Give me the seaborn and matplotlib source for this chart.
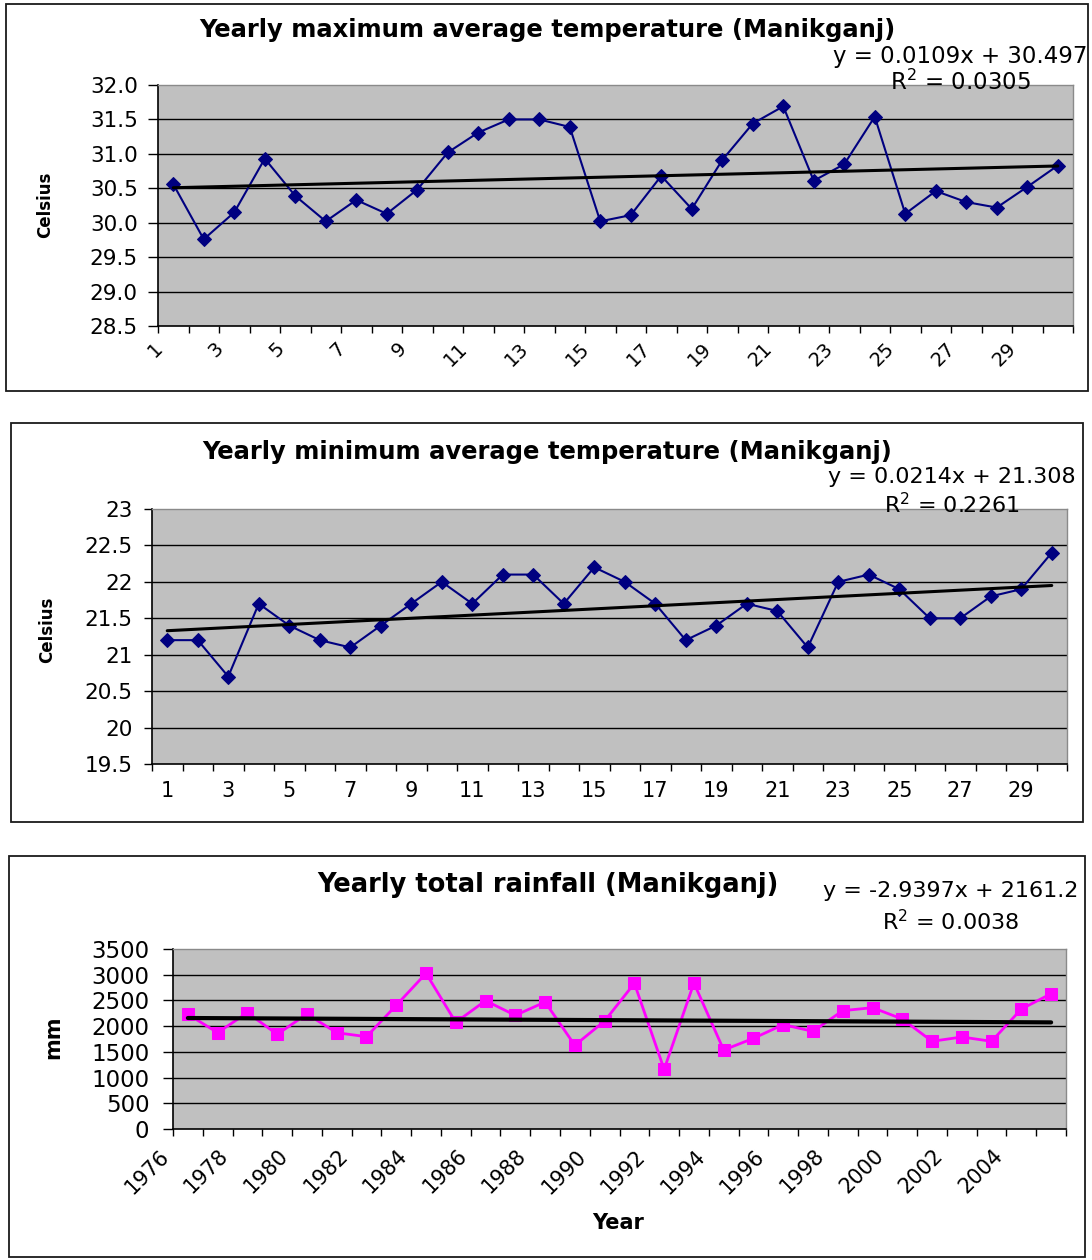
import numpy as np
import pandas as pd
import matplotlib
matplotlib.use("Agg")
import matplotlib.pyplot as plt
import seaborn as sns
from matplotlib.patches import Rectangle
from matplotlib.transforms import ScaledTranslation

sns.set_style("white")
plt.rcParams['font.family'] = ['DejaVu Sans']
plt.rcParams['text.color'] = 'black'
plt.rcParams['xtick.color'] = 'black'
plt.rcParams['ytick.color'] = 'black'
plt.rcParams['axes.labelcolor'] = 'black'

# ---------------- data ----------------
index = list(range(1, 31))
tmax = [30.56, 29.76, 30.15, 30.93, 30.39, 30.02, 30.33, 30.13, 30.48, 31.02,
        31.31, 31.50, 31.50, 31.39, 30.02, 30.11, 30.68, 30.20, 30.91, 31.44,
        31.69, 30.61, 30.85, 31.54, 30.13, 30.46, 30.30, 30.22, 30.52, 30.83]
tmin = [21.2, 21.2, 20.7, 21.7, 21.4, 21.2, 21.1, 21.4, 21.7, 22.0,
        21.7, 22.1, 22.1, 21.7, 22.2, 22.0, 21.7, 21.2, 21.4, 21.7,
        21.6, 21.1, 22.0, 22.1, 21.9, 21.5, 21.5, 21.8, 21.9, 22.4]
years = list(range(1976, 2006))
rain = [2230, 1873, 2262, 1841, 2236, 1872, 1795, 2405, 3027, 2074,
        2495, 2210, 2469, 1627, 2100, 2833, 1160, 2839, 1536, 1763,
        2029, 1899, 2301, 2359, 2139, 1705, 1789, 1705, 2333, 2631]

tmax_fit = (0.0109, 30.497)
tmin_fit = (0.0214, 21.308)
rain_fit = (-2.9397, 2161.2)

tmax_ticks = [28.5, 29.0, 29.5, 30.0, 30.5, 31.0, 31.5, 32.0]
tmin_ticks = [19.5, 20, 20.5, 21, 21.5, 22, 22.5, 23]
rain_ticks = [0, 500, 1000, 1500, 2000, 2500, 3000, 3500]

titles = ["Yearly maximum average temperature (Manikganj)",
          "Yearly minimum average temperature (Manikganj)",
          "Yearly total rainfall (Manikganj)"]
equations = ["y = 0.0109x + 30.497", "y = 0.0214x + 21.308", "y = -2.9397x + 2161.2"]
r2_texts = ["R$^2$ = 0.0305", "R$^2$ = 0.2261", "R$^2$ = 0.0038"]

# ---------------- layout helpers ----------------
W, H = 1092, 1260
fig = plt.figure(figsize=(W / 100, H / 100), dpi=100)
fig.patch.set_facecolor("white")


def axes_px(l, t, r, b):
    return fig.add_axes([l / W, 1 - b / H, (r - l) / W, (b - t) / H])


def frame_px(l, t, r, b):
    fig.patches.append(Rectangle((l / W, 1 - b / H), (r - l) / W, (b - t) / H,
                                 transform=fig.transFigure, fill=False,
                                 ec="#1a1a1a", lw=1.3, zorder=0))


def text_px(x, y, s, **kw):
    fig.text(x / W, 1 - y / H, s, color="black", **kw)


def style_axes(ax, ticks, ytick_fmt, ysize, ypad, ytlen):
    ax.set_facecolor("#C0C0C0")
    ax.set_xlim(0.5, 30.5)
    ax.set_ylim(ticks[0], ticks[-1])
    ax.set_yticks(ticks)
    ax.set_yticklabels([ytick_fmt(v) for v in ticks], fontsize=ysize)
    for v in ticks[1:-1]:
        ax.axhline(v, color="black", lw=1.0, zorder=1)
    ax.tick_params(axis="y", direction="out", length=ytlen, width=1.0,
                   pad=ypad, color="black", labelcolor="black", left=True)
    # category boundaries as tick marks
    ax.set_xticks(np.arange(0.5, 31.0, 1.0))
    ax.set_xticklabels([])
    ax.tick_params(axis="x", which="major", direction="out", length=5,
                   width=1.0, color="black", bottom=True)
    for side in ("left", "bottom"):
        ax.spines[side].set_color("black")
        ax.spines[side].set_linewidth(1.2)
    for side in ("top", "right"):
        ax.spines[side].set_color("#8a8a8a")
        ax.spines[side].set_linewidth(1.0)
    ax.set_xlabel("")
    ax.set_ylabel("")


def offset_minor_labels(ax, dx_px, dy_px=0):
    for lab in ax.get_xticklabels(minor=True):
        lab.set_transform(lab.get_transform() +
                          ScaledTranslation(dx_px / 100, dy_px / 100, fig.dpi_scale_trans))


xs = np.array([index[0], index[-1]])
odd = index[0::2]

# ---------------- panel 1 ----------------
frame_px(6, 4, 1088, 391)
ax1 = axes_px(158, 85, 1073, 326)
df1 = pd.DataFrame({"idx": index, "val": tmax})
sns.lineplot(data=df1, x="idx", y="val", ax=ax1, color="#000080", lw=1.5,
             marker="D", markersize=7, markeredgecolor="#000080", zorder=3)
sns.lineplot(x=xs, y=tmax_fit[0] * xs + tmax_fit[1], ax=ax1, color="black", lw=2.2, zorder=4)
style_axes(ax1, tmax_ticks, lambda v: f"{v:.1f}", 15.5, 7, 7.5)
ax1.set_xticks(odd, minor=True)
ax1.set_xticklabels([str(i) for i in odd], minor=True, fontsize=14, rotation=45,
                    ha="right", va="center", rotation_mode="anchor", color="black")
ax1.tick_params(axis="x", which="minor", length=0, pad=14)
offset_minor_labels(ax1, -14)

text_px(547, 30, titles[0], ha="center", va="center", fontsize=17.5, fontweight="bold")
text_px(960, 56, equations[0], ha="center", va="center", fontsize=16.5)
text_px(960, 82, r2_texts[0], ha="center", va="center", fontsize=16.5)
text_px(45, 205, "Celsius", ha="center", va="center", rotation=90, fontsize=12,
        fontweight="bold")

# ---------------- panel 2 ----------------
frame_px(11, 423, 1083, 822)
ax2 = axes_px(152, 509, 1067, 764)
df2 = pd.DataFrame({"idx": index, "val": tmin})
sns.lineplot(data=df2, x="idx", y="val", ax=ax2, color="#000080", lw=1.5,
             marker="D", markersize=7, markeredgecolor="#000080", zorder=3)
sns.lineplot(x=xs, y=tmin_fit[0] * xs + tmin_fit[1], ax=ax2, color="black", lw=2.2, zorder=4)
style_axes(ax2, tmin_ticks, lambda v: f"{v:g}", 15.5, 8, 6)
ax2.set_xticks(odd, minor=True)
ax2.set_xticklabels([str(i) for i in odd], minor=True, fontsize=15, color="black")
ax2.tick_params(axis="x", which="minor", length=0, pad=12)

text_px(547, 452, titles[1], ha="center", va="center", fontsize=17.5, fontweight="bold")
text_px(952, 477, equations[1], ha="center", va="center", fontsize=16)
text_px(952, 505, r2_texts[1], ha="center", va="center", fontsize=16)
text_px(47, 630, "Celsius", ha="center", va="center", rotation=90, fontsize=12,
        fontweight="bold")

# ---------------- panel 3 ----------------
frame_px(9, 856, 1085, 1257)
ax3 = axes_px(173, 949, 1066, 1129)
df3 = pd.DataFrame({"idx": index, "val": rain})
sns.lineplot(data=df3, x="idx", y="val", ax=ax3, color="#FF00FF", lw=2.0,
             marker="s", markersize=8.5, markeredgecolor="#FF00FF", zorder=3)
sns.lineplot(x=xs, y=rain_fit[0] * xs + rain_fit[1], ax=ax3, color="black", lw=3.0, zorder=4)
style_axes(ax3, rain_ticks, lambda v: f"{v:d}", 16.5, 10, 7)
ax3.set_xticks(odd, minor=True)
ax3.set_xticklabels([str(y) for y in years[0::2]], minor=True, fontsize=15, rotation=45,
                    ha="right", va="center", rotation_mode="anchor", color="black")
ax3.tick_params(axis="x", which="minor", length=0, pad=17)
offset_minor_labels(ax3, -22)

text_px(548, 885, titles[2], ha="center", va="center", fontsize=18.5, fontweight="bold")
text_px(951, 891, equations[2], ha="center", va="center", fontsize=16)
text_px(951, 922, r2_texts[2], ha="center", va="center", fontsize=16)
text_px(53, 1037, "mm", ha="center", va="center", rotation=90, fontsize=15,
        fontweight="bold")
text_px(618, 1223, "Year", ha="center", va="center", fontsize=15, fontweight="bold")

fig.savefig("out.png", dpi=100, facecolor="white")
